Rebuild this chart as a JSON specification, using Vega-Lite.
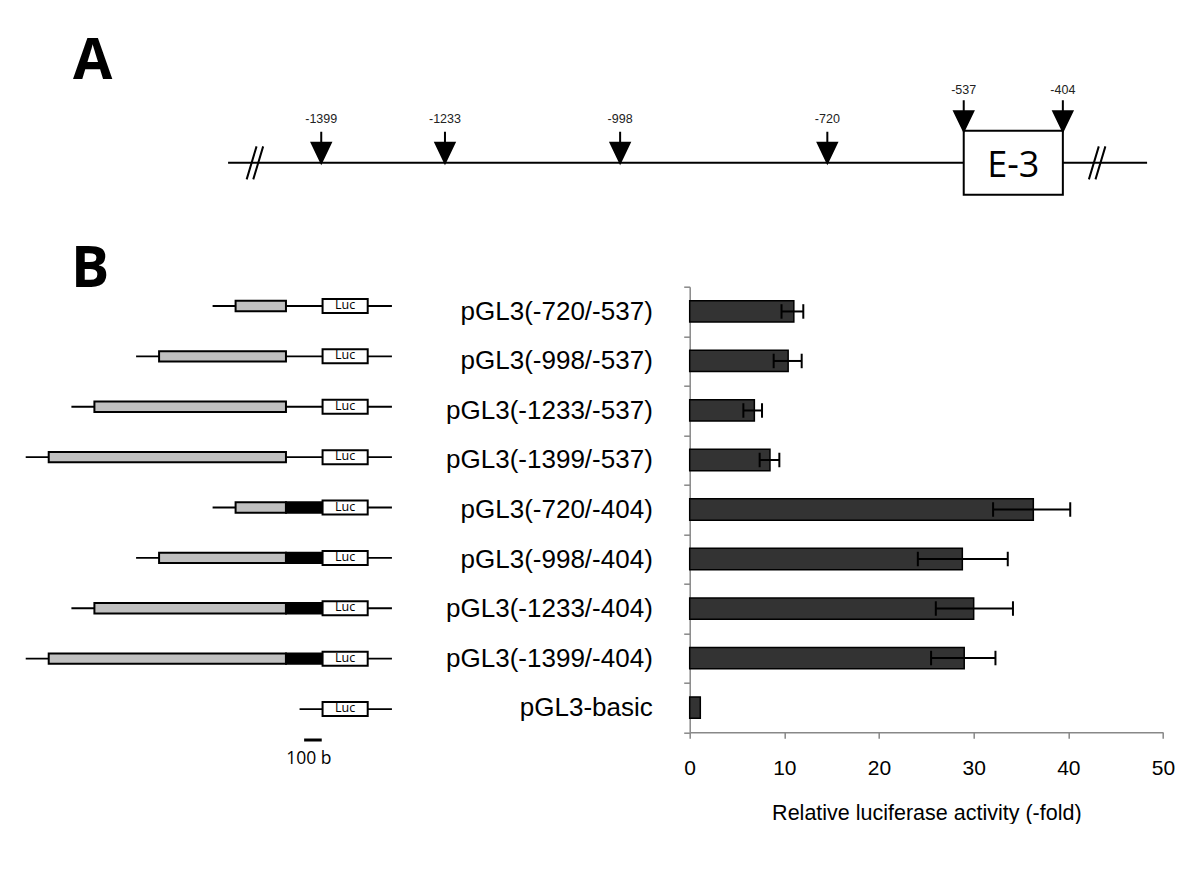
{
  "$schema": "https://vega.github.io/schema/vega-lite/v6.json",
  "padding": 0,
  "background": "white",
  "bounds": "flush",
  "spacing": 55.7,
  "config": {"view": {"stroke": null}, "font": "Liberation Sans", "axis": {"grid": false}},
  "datasets": {
    "sites": [
      {"pos": -1399, "label": "-1399", "onExon": false},
      {"pos": -1233, "label": "-1233", "onExon": false},
      {"pos": -998, "label": "-998", "onExon": false},
      {"pos": -720, "label": "-720", "onExon": false},
      {"pos": -537, "label": "-537", "onExon": true},
      {"pos": -404, "label": "-404", "onExon": true}
    ],
    "genome": [{"from": -1524, "to": -291}],
    "breaks": [{"pos": -1488}, {"pos": -358}],
    "exon": [{"name": "E-3", "from": -537, "to": -404}],
    "constructs": [
      {"construct": "pGL3(-720/-537)", "value": 11.0, "lo": 9.7, "hi": 12.0},
      {"construct": "pGL3(-998/-537)", "value": 10.4, "lo": 8.87, "hi": 11.83},
      {"construct": "pGL3(-1233/-537)", "value": 6.83, "lo": 5.67, "hi": 7.64},
      {"construct": "pGL3(-1399/-537)", "value": 8.48, "lo": 7.39, "hi": 9.47},
      {"construct": "pGL3(-720/-404)", "value": 36.3, "lo": 32.05, "hi": 40.2},
      {"construct": "pGL3(-998/-404)", "value": 28.8, "lo": 24.1, "hi": 33.6},
      {"construct": "pGL3(-1233/-404)", "value": 30.0, "lo": 26.0, "hi": 34.15},
      {"construct": "pGL3(-1399/-404)", "value": 29.0, "lo": 25.5, "hi": 32.3},
      {"construct": "pGL3-basic", "value": 1.12, "lo": null, "hi": null}
    ],
    "backbone": [
      {"construct": "pGL3(-720/-537)", "from": -720, "to": -152},
      {"construct": "pGL3(-998/-537)", "from": -998, "to": -152},
      {"construct": "pGL3(-1233/-537)", "from": -1233, "to": -152},
      {"construct": "pGL3(-1399/-537)", "from": -1399, "to": -152},
      {"construct": "pGL3(-720/-404)", "from": -720, "to": -152},
      {"construct": "pGL3(-998/-404)", "from": -998, "to": -152},
      {"construct": "pGL3(-1233/-404)", "from": -1233, "to": -152},
      {"construct": "pGL3(-1399/-404)", "from": -1399, "to": -152},
      {"construct": "pGL3-basic", "from": -404, "to": -152}
    ],
    "segments": [
      {"construct": "pGL3(-720/-537)", "part": "insert", "from": -720, "to": -537},
      {"construct": "pGL3(-998/-537)", "part": "insert", "from": -998, "to": -537},
      {"construct": "pGL3(-1233/-537)", "part": "insert", "from": -1233, "to": -537},
      {"construct": "pGL3(-1399/-537)", "part": "insert", "from": -1399, "to": -537},
      {"construct": "pGL3(-720/-404)", "part": "insert", "from": -720, "to": -537},
      {"construct": "pGL3(-998/-404)", "part": "insert", "from": -998, "to": -537},
      {"construct": "pGL3(-1233/-404)", "part": "insert", "from": -1233, "to": -537},
      {"construct": "pGL3(-1399/-404)", "part": "insert", "from": -1399, "to": -537},
      {"construct": "pGL3(-720/-404)", "part": "E-3", "from": -537, "to": -404},
      {"construct": "pGL3(-998/-404)", "part": "E-3", "from": -537, "to": -404},
      {"construct": "pGL3(-1233/-404)", "part": "E-3", "from": -537, "to": -404},
      {"construct": "pGL3(-1399/-404)", "part": "E-3", "from": -537, "to": -404},
      {"construct": "pGL3(-720/-537)", "part": "Luc", "from": -404, "to": -240},
      {"construct": "pGL3(-998/-537)", "part": "Luc", "from": -404, "to": -240},
      {"construct": "pGL3(-1233/-537)", "part": "Luc", "from": -404, "to": -240},
      {"construct": "pGL3(-1399/-537)", "part": "Luc", "from": -404, "to": -240},
      {"construct": "pGL3(-720/-404)", "part": "Luc", "from": -404, "to": -240},
      {"construct": "pGL3(-998/-404)", "part": "Luc", "from": -404, "to": -240},
      {"construct": "pGL3(-1233/-404)", "part": "Luc", "from": -404, "to": -240},
      {"construct": "pGL3(-1399/-404)", "part": "Luc", "from": -404, "to": -240},
      {"construct": "pGL3-basic", "part": "Luc", "from": -404, "to": -240}
    ],
    "scalebar": [{"construct": "scale", "from": -471, "to": -407, "label": "100 b"}]
  },
  "vconcat": [
    {
      "width": 1200,
      "height": 231,
      "title": {"text": "A", "anchor": "start", "frame": "group", "orient": "top", "offset": -135.6, "baseline": "alphabetic", "dx": 73, "fontSize": 57, "fontWeight": "bold", "font": "Open Sans", "color": "black"},
      "layer": [
        {
          "data": {"name": "genome"},
          "mark": {"type": "rule", "stroke": "black", "strokeWidth": 2},
          "encoding": {
            "x": {"field": "from", "type": "quantitative", "scale": {"domain": [-1830, -220], "nice": false, "zero": false}, "axis": null},
            "x2": {"field": "to"},
            "y": {"datum": 0, "type": "quantitative", "scale": {"domain": [-2, 5], "nice": false, "zero": false}, "axis": null}
          }
        },
        {
          "data": {"name": "breaks"},
          "mark": {"type": "point", "shape": "M-0.5,1L0.1,-1M-0.1,1L0.5,-1", "size": 1089, "filled": false, "stroke": "black", "strokeWidth": 2, "opacity": 1},
          "encoding": {
            "x": {"field": "pos", "type": "quantitative"},
            "y": {"datum": 0, "type": "quantitative"}
          }
        },
        {
          "data": {"name": "exon"},
          "mark": {"type": "bar", "height": 64, "fill": "white", "stroke": "black", "strokeWidth": 2},
          "encoding": {
            "x": {"field": "from", "type": "quantitative"},
            "x2": {"field": "to"},
            "y": {"datum": 0, "type": "quantitative"}
          }
        },
        {
          "data": {"name": "exon"},
          "mark": {"type": "text", "font": "Open Sans", "fontSize": 36, "align": "center", "baseline": "middle", "dx": 49.6, "dy": 3.5, "color": "black"},
          "encoding": {
            "x": {"field": "from", "type": "quantitative"},
            "y": {"datum": 0, "type": "quantitative"},
            "text": {"field": "name"}
          }
        },
        {
          "data": {"name": "sites"},
          "transform": [{"filter": "!datum.onExon"}],
          "mark": {"type": "point", "shape": "M0,-2L0,-1.2M-0.62,-1.29L0.62,-1.29L0,0Z", "size": 961, "filled": true, "fill": "black", "stroke": "black", "strokeWidth": 2, "opacity": 1},
          "encoding": {
            "x": {"field": "pos", "type": "quantitative"},
            "y": {"datum": 0, "type": "quantitative"}
          }
        },
        {
          "data": {"name": "sites"},
          "transform": [{"filter": "datum.onExon"}],
          "mark": {"type": "point", "shape": "M0,-2L0,-1.2M-0.62,-1.29L0.62,-1.29L0,0Z", "size": 961, "filled": true, "fill": "black", "stroke": "black", "strokeWidth": 2, "opacity": 1},
          "encoding": {
            "x": {"field": "pos", "type": "quantitative"},
            "y": {"datum": 1, "type": "quantitative"}
          }
        },
        {
          "data": {"name": "sites"},
          "transform": [{"filter": "!datum.onExon"}],
          "mark": {"type": "text", "fontSize": 12.5, "align": "center", "baseline": "middle", "dy": -43.6, "color": "#222"},
          "encoding": {
            "x": {"field": "pos", "type": "quantitative"},
            "y": {"datum": 0, "type": "quantitative"},
            "text": {"field": "label"}
          }
        },
        {
          "data": {"name": "sites"},
          "transform": [{"filter": "datum.onExon"}],
          "mark": {"type": "text", "fontSize": 12.5, "align": "center", "baseline": "middle", "dy": -41, "color": "#222"},
          "encoding": {
            "x": {"field": "pos", "type": "quantitative"},
            "y": {"datum": 1, "type": "quantitative"},
            "text": {"field": "label"}
          }
        }
      ]
    },
    {
      "bounds": "flush",
      "spacing": 269.7,
      "hconcat": [
        {
          "width": 420,
          "height": 492,
          "title": {"text": "B", "anchor": "start", "frame": "group", "orient": "top", "offset": -57.6, "baseline": "alphabetic", "dx": 71, "fontSize": 57, "fontWeight": "bold", "font": "Open Sans", "color": "black"},
          "layer": [
            {
              "data": {"name": "backbone"},
              "mark": {"type": "rule", "stroke": "black", "strokeWidth": 1.8, "xOffset": -23},
              "encoding": {
                "x": {"field": "from", "type": "quantitative", "scale": {"domain": [-1576, -50], "nice": false, "zero": false}, "axis": null},
                "x2": {"field": "to"},
                "y": {"field": "construct", "type": "nominal", "scale": {"type": "point", "padding": 0.383, "domain": ["pGL3(-720/-537)", "pGL3(-998/-537)", "pGL3(-1233/-537)", "pGL3(-1399/-537)", "pGL3(-720/-404)", "pGL3(-998/-404)", "pGL3(-1233/-404)", "pGL3(-1399/-404)", "pGL3-basic", "scale"]}, "axis": null}
              }
            },
            {
              "data": {"name": "segments"},
              "transform": [{"filter": "datum.part != 'Luc'"}],
              "mark": {"type": "bar", "height": 10.4, "stroke": "black", "strokeWidth": 2, "opacity": 1},
              "encoding": {
                "x": {"field": "from", "type": "quantitative"},
                "x2": {"field": "to"},
                "y": {"field": "construct", "type": "nominal"},
                "fill": {"field": "part", "type": "nominal", "scale": {"domain": ["insert", "E-3", "Luc"], "range": ["#c0c0c0", "#000000", "#ffffff"]}, "legend": null}
              }
            },
            {
              "data": {"name": "segments"},
              "transform": [{"filter": "datum.part == 'Luc'"}],
              "mark": {"type": "bar", "height": 14, "stroke": "black", "strokeWidth": 2, "opacity": 1},
              "encoding": {
                "x": {"field": "from", "type": "quantitative"},
                "x2": {"field": "to"},
                "y": {"field": "construct", "type": "nominal"},
                "fill": {"field": "part", "type": "nominal", "legend": null}
              }
            },
            {
              "data": {"name": "segments"},
              "transform": [{"filter": "datum.part == 'Luc'"}],
              "mark": {"type": "text", "font": "Open Sans", "fontSize": 12.5, "align": "center", "baseline": "middle", "dx": 22.5, "dy": -1, "color": "black"},
              "encoding": {
                "x": {"field": "from", "type": "quantitative"},
                "y": {"field": "construct", "type": "nominal"},
                "text": {"field": "part"}
              }
            },
            {
              "data": {"name": "scalebar"},
              "mark": {"type": "rule", "stroke": "black", "strokeWidth": 3, "yOffset": -19.4},
              "encoding": {
                "x": {"field": "from", "type": "quantitative"},
                "x2": {"field": "to"},
                "y": {"field": "construct", "type": "nominal"}
              }
            },
            {
              "data": {"name": "scalebar"},
              "mark": {"type": "text", "font": "Open Sans", "fontSize": 17.5, "align": "left", "baseline": "middle", "dx": -18, "color": "black"},
              "encoding": {
                "x": {"field": "from", "type": "quantitative"},
                "y": {"field": "construct", "type": "nominal"},
                "text": {"field": "label"}
              }
            }
          ]
        },
        {
          "width": 473.3,
          "height": 445.6,
          "data": {"name": "constructs"},
          "encoding": {
            "y": {
              "field": "construct", "type": "nominal", "sort": null,
              "scale": {"domain": ["pGL3(-720/-537)", "pGL3(-998/-537)", "pGL3(-1233/-537)", "pGL3(-1399/-537)", "pGL3(-720/-404)", "pGL3(-998/-404)", "pGL3(-1233/-404)", "pGL3(-1399/-404)", "pGL3-basic"], "paddingInner": 0, "paddingOuter": 0},
              "axis": {"title": null, "labelFontSize": 26, "labelColor": "black", "labelPadding": 31.4, "labelLimit": 400, "tickSize": 6, "tickColor": "#888", "domainColor": "#888", "tickWidth": 1.5, "domainWidth": 1.5, "tickBand": "extent"}
            }
          },
          "layer": [
            {
              "mark": {"type": "bar", "height": {"band": 0.43}, "fill": "#333333", "stroke": "black", "strokeWidth": 1.5},
              "encoding": {
                "x": {
                  "field": "value", "type": "quantitative",
                  "scale": {"domain": [0, 50], "nice": false},
                  "axis": {"values": [0, 10, 20, 30, 40, 50], "title": "Relative luciferase activity (-fold)", "titleFontSize": 21.5, "titleFontWeight": "normal", "titleColor": "black", "titleBaseline": "alphabetic", "titleY": 87.2, "labelFontSize": 21, "labelColor": "black", "labelPadding": 19.4, "labelFlush": false, "labelOverlap": false, "tickSize": 6, "tickColor": "#888", "domainColor": "#888", "tickWidth": 1.5, "domainWidth": 1.5}
                }
              }
            },
            {
              "transform": [{"filter": "datum.lo != null"}],
              "mark": {"type": "rule", "stroke": "black", "strokeWidth": 2},
              "encoding": {
                "x": {"field": "lo", "type": "quantitative"},
                "x2": {"field": "hi"}
              }
            },
            {
              "transform": [{"filter": "datum.lo != null"}],
              "mark": {"type": "tick", "size": 14.5, "thickness": 2, "color": "black", "opacity": 1},
              "encoding": {
                "x": {"field": "lo", "type": "quantitative"}
              }
            },
            {
              "transform": [{"filter": "datum.hi != null"}],
              "mark": {"type": "tick", "size": 14.5, "thickness": 2, "color": "black", "opacity": 1},
              "encoding": {
                "x": {"field": "hi", "type": "quantitative"}
              }
            }
          ]
        }
      ]
    }
  ]
}
